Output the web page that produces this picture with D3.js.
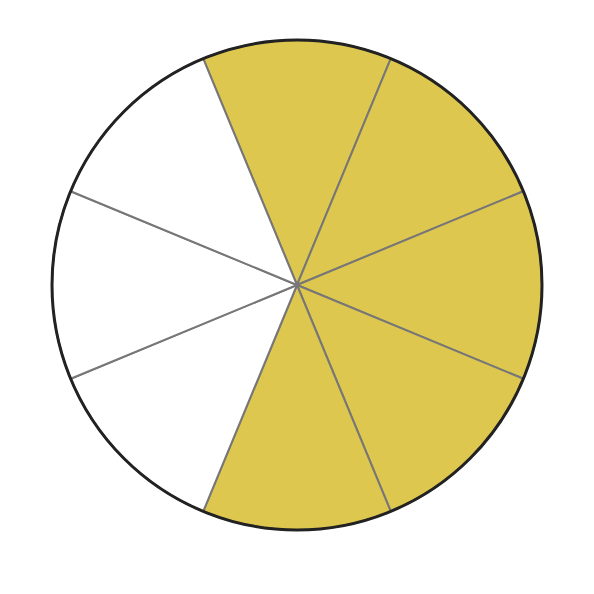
<!DOCTYPE html>
<html>
<head>
<meta charset="utf-8">
<script src="https://cdn.jsdelivr.net/npm/d3@7"></script>
<style>
  html, body { margin: 0; padding: 0; background: #fff; }
</style>
</head>
<body>
<div id="chart"></div>
<script>
// Fraction circle: 8 equal parts, 5 shaded
const parts = ["1", "2", "3", "4", "5", "6", "7", "8"];
const shaded = [true, true, true, true, true, false, false, false];

const width = 594;
const height = 594;
const cx = 297, cy = 285, radius = 245;

const svg = d3.select("#chart").append("svg")
    .attr("width", width)
    .attr("height", height);

const g = svg.append("g")
    .attr("transform", `translate(${cx},${cy})`);

// equal slices, starting from -22.5deg so a slice is centred at the top
const offset = -Math.PI / parts.length;
const pie = d3.pie()
    .value(1)
    .sort(null)
    .startAngle(offset)
    .endAngle(offset + 2 * Math.PI);

const arc = d3.arc()
    .innerRadius(0)
    .outerRadius(radius);

g.selectAll("path.slice")
  .data(pie(parts))
  .join("path")
    .attr("class", "slice")
    .attr("d", arc)
    .attr("fill", (d, i) => shaded[i] ? "#dec74e" : "#ffffff")
    .attr("stroke", "#777777")
    .attr("stroke-width", 2)
    .attr("stroke-linejoin", "round");

// outer ring
g.append("circle")
    .attr("r", radius)
    .attr("fill", "none")
    .attr("stroke", "#222222")
    .attr("stroke-width", 3);
</script>
</body>
</html>
